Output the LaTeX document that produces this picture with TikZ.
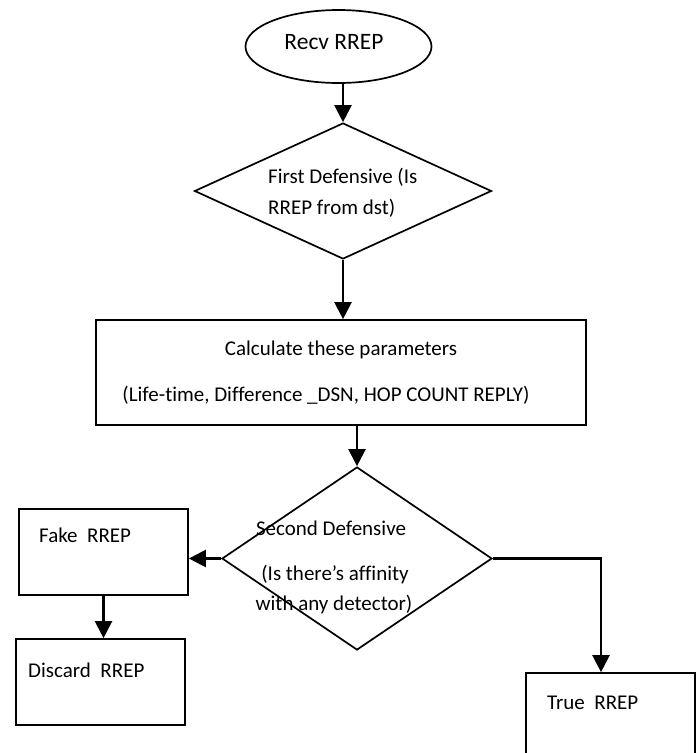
\documentclass[tikz,border=0pt]{standalone}
\usepackage{fontspec}
\setmainfont{Carlito}[Ligatures=NoCommon]
\usetikzlibrary{shapes.geometric,arrows.meta}
\begin{document}
\begin{tikzpicture}[x=1pt,y=-1pt,
  shapeline/.style={draw=black, line width=1.7pt, inner sep=0pt},
  box/.style={shapeline, rectangle},
  decision/.style={shapeline, diamond},
  flow/.style={draw=black, line width=2.3pt, -{Triangle[width=17pt,length=17pt]}},
  txt/.style={font=\fontsize{21}{25}\selectfont, inner sep=0pt, text=black},
]
\clip (0,0) rectangle (700,753);
\fill[white] (0,0) rectangle (700,753);

% shapes
\node[shapeline, ellipse, minimum width=186pt, minimum height=73pt] (e) at (338.5,46.5) {};
\node[decision, minimum width=297pt, minimum height=136pt] (d1) at (343,191) {};
\node[box, minimum width=490pt, minimum height=105pt] (c) at (341,372.5) {};
\node[decision, minimum width=270pt, minimum height=183pt] (d2) at (357,558.5) {};
\node[box, minimum width=169pt, minimum height=86pt] (fake) at (103.5,552) {};
\node[box, minimum width=169pt, minimum height=86pt] (disc) at (100.5,682) {};
\node[box, minimum width=169pt, minimum height=110pt] (true) at (610.5,728) {};

% texts
\node[txt, font=\fontsize{23.5}{28}\selectfont] (te) at (334,42) {Recv RREP};
\node[txt, anchor=west] (td1a) at (268,177) {First Defensive (Is};
\node[txt, anchor=west] (td1b) at (268,208) {RREP from dst)};
\node[txt] (tc1) at (341,350) {Calculate these parameters};
\node[txt] (tc2) at (326,395) {(Life-time, Difference \_DSN, HOP COUNT REPLY)};
\node[txt] (td2a) at (331,528) {Second Defensive};
\node[txt] (td2b) at (335,575) {(Is there’s affinity};
\node[txt] (td2c) at (334,605) {with any detector)};
\node[txt, anchor=west] (tfake) at (39,535) {Fake\ \ RREP};
\node[txt, anchor=west] (tdisc) at (28,670) {Discard\ \ RREP};
\node[txt, anchor=west] (ttrue) at (547,703) {True\ \ RREP};

% connectors
\draw[flow] (d1.north |- e.south) -- (d1.north);
\draw[flow] (d1.south) -- (d1.south |- c.north);
\draw[flow] (d2.north |- c.south) -- (d2.north);
\draw[flow] (d2.west) -- (d2.west -| fake.east);
\draw[flow] (fake.south) -- (fake.south |- disc.north);
\coordinate (tin) at ([xshift=-9.5pt]true.north);
\draw[flow] (d2.east) -| (tin);
\end{tikzpicture}
\end{document}
